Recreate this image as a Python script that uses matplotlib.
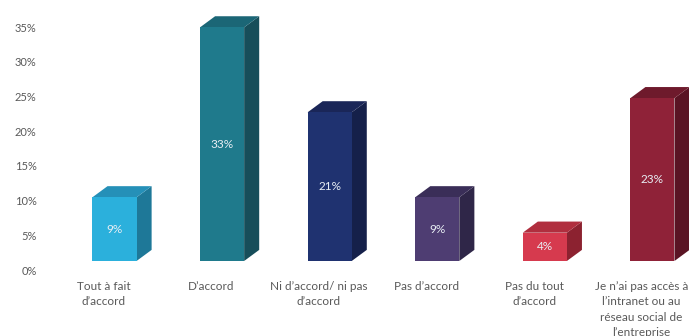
import matplotlib.pyplot as plt
from matplotlib.patches import Polygon

plt.rcParams['font.family'] = ['Lato', 'DejaVu Sans']

categories = [
    "Tout à fait\nd’accord",
    "D’accord",
    "Ni d’accord/ ni pas\nd’accord",
    "Pas d’accord",
    "Pas du tout\nd’accord",
    "Je n’ai pas accès à\nl’intranet ou au\nréseau social de\nl’entreprise",
]
values = [9, 33, 21, 9, 4, 23]
value_labels = ["9%", "33%", "21%", "9%", "4%", "23%"]
yticks = [0, 5, 10, 15, 20, 25, 30, 35]

# front / top / side shades for each box
front_colors = ['#2BB0DC', '#1F7A8C', '#1F3270', '#4E3D72', '#D63A4E', '#8F2238']
top_colors = ['#2590B8', '#1B6676', '#1A2658', '#3A2E58', '#B02E3E', '#6E1A2C']
side_colors = ['#1E7898', '#174E5A', '#15204A', '#2F2648', '#8C2230', '#5A1424']

# 3D box geometry (data units)
floor = 1.3      # front face sits a little above the back-wall zero
stretch = 1.02   # perspective stretch of the front face
half_w = 0.205
dx, dy = 0.14, 1.6

fig = plt.figure(figsize=(6.89, 3.36), dpi=100)
ax = fig.add_axes([45 / 689, 58 / 336, 644 / 689, 278 / 336])
ax.set_xlim(-0.646, 5.34)
ax.set_ylim(-1.15, 38.9)

for i, v in enumerate(values):
    x0, x1 = i - half_w, i + half_w
    y0, y1 = floor, floor + v * stretch
    front = Polygon([(x0, y0), (x1, y0), (x1, y1), (x0, y1)],
                    closed=True, facecolor=front_colors[i], edgecolor='none')
    top = Polygon([(x0, y1), (x1, y1), (x1 + dx, y1 + dy), (x0 + dx, y1 + dy)],
                  closed=True, facecolor=top_colors[i], edgecolor='none')
    side = Polygon([(x1, y0), (x1 + dx, y0 + dy), (x1 + dx, y1 + dy), (x1, y1)],
                   closed=True, facecolor=side_colors[i], edgecolor='none')
    for p in (side, top, front):
        ax.add_patch(p)
    ax.text(i, (y0 + y1) / 2, value_labels[i], ha='center', va='center',
            color='#E8EEF4', fontsize=8.5)

ax.set_yticks(yticks)
ax.set_yticklabels([f"{t}%" for t in yticks])
ax.set_xticks([i - 0.1 for i in range(len(categories))])
ax.set_xticklabels(categories, linespacing=1.5)
ax.tick_params(axis='y', length=0, pad=6, labelsize=8, labelcolor='#595959')
ax.tick_params(axis='x', length=0, pad=2, labelsize=8.5, labelcolor='#595959')
for s in ax.spines.values():
    s.set_visible(False)

fig.savefig('out.png', dpi=100)
